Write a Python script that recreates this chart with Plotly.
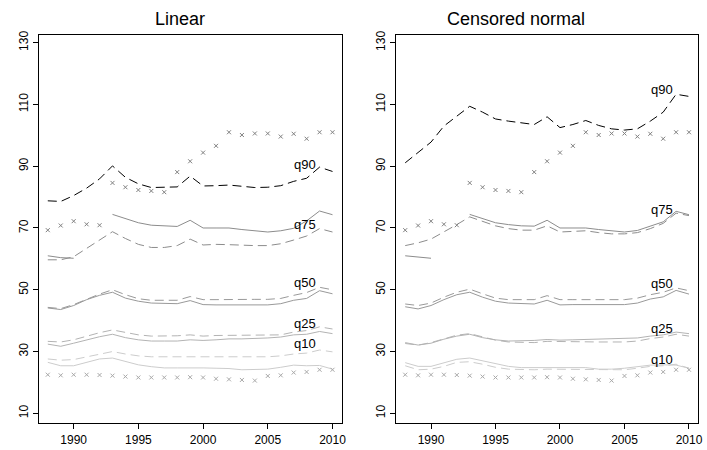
import plotly.graph_objects as go

years = list(range(1988, 2011))

# markers (same in both panels)
top_marks = [69.3, 70.8, 72.2, 71.2, 70.9, 84.6, 83.2, 82.3, 82.0, 81.6, 88.1, 91.6, 94.4, 96.6,
             101.0, 100.1, 100.6, 100.6, 99.6, 100.5, 98.9, 101.0, 101.0]
bottom_marks = [22.5, 22.3, 22.5, 22.5, 22.4, 22.2, 21.9, 21.6, 21.6, 21.6, 21.6, 21.7, 21.6, 21.2,
                21.0, 20.8, 20.6, 22.1, 22.3, 23.2, 23.4, 24.1, 24.1]

# Linear panel
lin_q90_dash = [78.8, 78.6, 80.5, 82.9, 85.9, 90.1, 86.4, 84.3, 83.1, 83.1, 83.3, 86.8, 83.6, 83.7,
                83.9, 83.5, 83.1, 83.2, 83.7, 85.1, 86.1, 89.7, 88.3]
lin_q75_solid = [61.0, 60.4, 60.2, None, None, 74.4, 73.0, 71.7, 70.9, 70.6, 70.5, 72.5, 70.0, 70.0,
                 70.0, 69.5, 69.0, 68.7, 69.1, 69.9, 72.3, 75.5, 74.3]
lin_q75_dash = [59.7, 59.7, 60.7, 63.4, 65.9, 68.8, 66.6, 64.7, 63.7, 63.7, 64.3, 66.4, 64.5, 64.7,
                64.6, 64.4, 64.3, 64.3, 64.9, 66.1, 67.4, 69.8, 68.7]
lin_q50_solid = [44.1, 43.6, 44.9, 46.8, 48.2, 49.2, 47.3, 46.3, 45.7, 45.5, 45.5, 46.5, 45.2, 45.1,
                 45.1, 45.1, 45.1, 45.1, 45.5, 46.6, 47.2, 49.7, 48.7]
lin_q50_dash = [44.3, 43.9, 45.2, 47.0, 48.6, 50.0, 48.4, 47.1, 46.6, 46.6, 46.6, 47.8, 46.8, 46.8,
                46.9, 46.9, 46.9, 46.9, 47.2, 48.2, 49.1, 50.8, 50.0]
lin_q25_solid = [32.4, 31.7, 32.7, 33.8, 34.8, 35.6, 34.5, 33.8, 33.4, 33.4, 33.4, 33.8, 33.6, 33.8,
                 34.1, 34.1, 34.2, 34.4, 34.7, 35.4, 35.6, 36.5, 35.8]
lin_q25_dash = [33.3, 33.1, 33.8, 35.0, 36.1, 37.0, 36.1, 35.4, 35.0, 35.0, 35.1, 35.4, 35.0, 35.2,
                35.2, 35.2, 35.2, 35.2, 35.4, 36.3, 36.8, 38.0, 37.3]
lin_q10_solid = [26.5, 25.4, 25.4, 26.5, 27.6, 27.9, 26.7, 25.7, 25.1, 24.7, 24.7, 24.8, 24.7, 24.6,
                 24.5, 24.1, 24.1, 24.3, 24.9, 25.6, 25.4, 25.5, 24.3]
lin_q10_dash = [27.6, 27.2, 27.4, 28.3, 29.2, 30.0, 29.2, 28.6, 28.3, 28.3, 28.3, 28.3, 28.3, 28.1,
                28.3, 28.3, 28.3, 28.3, 28.6, 29.2, 29.5, 30.5, 29.9]

# Censored normal panel
cen_q90_dash = [91.1, 94.6, 97.8, 103.0, 106.2, 109.4, 107.5, 105.3, 104.6, 104.1, 103.5, 106.0, 102.5,
                103.5, 104.8, 103.2, 102.1, 101.7, 102.1, 104.6, 107.5, 113.3, 112.6]
cen_q75_solid = [61.0, 60.6, 60.2, None, None, 74.4, 73.0, 71.7, 71.1, 70.7, 70.6, 72.5, 70.0, 70.0,
                 70.0, 69.5, 69.0, 68.7, 69.2, 70.6, 72.0, 75.4, 74.3]
cen_q75_dash = [64.3, 65.2, 66.4, 68.7, 71.1, 73.6, 72.2, 70.7, 69.8, 69.3, 69.3, 70.7, 68.7, 68.9,
                69.1, 68.5, 68.1, 68.1, 68.5, 69.8, 71.5, 74.8, 74.0]
cen_q50_solid = [44.5, 43.8, 44.9, 46.8, 48.4, 49.2, 47.6, 46.3, 45.7, 45.5, 45.4, 46.6, 45.1, 45.2,
                 45.2, 45.2, 45.2, 45.2, 45.7, 47.0, 47.7, 49.8, 48.6]
cen_q50_dash = [45.4, 44.9, 45.7, 47.6, 49.2, 50.2, 48.7, 47.3, 46.8, 46.8, 46.8, 48.1, 46.8, 46.8,
                46.8, 46.8, 46.8, 46.8, 47.3, 48.4, 49.2, 50.6, 49.7]
cen_q25_solid = [32.9, 32.1, 32.7, 34.0, 35.0, 35.6, 34.5, 33.8, 33.4, 33.4, 33.6, 33.9, 33.7, 33.8,
                 33.9, 34.0, 34.0, 34.1, 34.4, 35.0, 35.4, 36.3, 35.8]
cen_q25_dash = [32.6, 32.1, 32.9, 34.2, 35.3, 35.8, 34.7, 33.7, 33.1, 33.1, 32.9, 33.3, 33.2, 33.1,
                33.1, 33.1, 33.1, 33.1, 33.4, 34.2, 34.7, 35.6, 35.0]
cen_q10_solid = [26.4, 25.2, 25.2, 26.3, 27.5, 27.9, 27.0, 26.1, 25.2, 24.8, 24.8, 25.0, 25.0, 24.9,
                 24.8, 24.3, 24.3, 24.6, 25.0, 25.6, 25.7, 25.6, 24.6]
cen_q10_dash = [25.4, 24.1, 24.3, 25.2, 26.5, 26.7, 25.9, 24.9, 24.3, 24.1, 24.1, 24.3, 24.3, 24.1,
                24.1, 24.1, 24.1, 24.1, 24.6, 25.2, 25.4, 25.9, 24.6]

quantile_labels = ["q90", "q75", "q50", "q25", "q10"]
lin_label_y = [90.6, 71.0, 52.4, 39.2, 32.5]
cen_label_y = [114.7, 76.1, 52.1, 37.3, 27.3]
label_year = 2007.9

col = {"q90": "#000000", "q75": "#8c8c8c", "q50": "#999999", "q25": "#b3b3b3", "q10": "#cccccc"}
DASH = "9px,5px"

panels = [
    ("x", "y", {"q90": (None, lin_q90_dash), "q75": (lin_q75_solid, lin_q75_dash),
                "q50": (lin_q50_solid, lin_q50_dash), "q25": (lin_q25_solid, lin_q25_dash),
                "q10": (lin_q10_solid, lin_q10_dash)}, lin_label_y),
    ("x2", "y2", {"q90": (None, cen_q90_dash), "q75": (cen_q75_solid, cen_q75_dash),
                  "q50": (cen_q50_solid, cen_q50_dash), "q25": (cen_q25_solid, cen_q25_dash),
                  "q10": (cen_q10_solid, cen_q10_dash)}, cen_label_y),
]

fig = go.Figure()
annotations = []
for xa, ya, series, label_y in panels:
    for q, (solid, dash) in series.items():
        if solid is not None:
            fig.add_trace(go.Scatter(x=years, y=solid, mode="lines", xaxis=xa, yaxis=ya,
                                     line=dict(color=col[q], width=1), connectgaps=False,
                                     hoverinfo="skip"))
        fig.add_trace(go.Scatter(x=years, y=dash, mode="lines", xaxis=xa, yaxis=ya,
                                 line=dict(color=col[q], width=1, dash=DASH), hoverinfo="skip"))
    fig.add_trace(go.Scatter(x=years, y=top_marks, mode="markers", xaxis=xa, yaxis=ya,
                             marker=dict(symbol="x-thin", size=4, line=dict(color="#808080", width=1)),
                             hoverinfo="skip"))
    fig.add_trace(go.Scatter(x=years, y=bottom_marks, mode="markers", xaxis=xa, yaxis=ya,
                             marker=dict(symbol="x-thin", size=4, line=dict(color="#a8a8a8", width=1)),
                             hoverinfo="skip"))
    for lab, ly in zip(quantile_labels, label_y):
        annotations.append(dict(x=label_year, y=ly, xref=xa, yref=ya, text=lab, showarrow=False,
                                font=dict(size=13, color="#000000", family="Liberation Sans, Arial"),
                                xanchor="center", yanchor="middle", bgcolor="rgba(0,0,0,0)"))

W, H = 707, 450
annotations.append(dict(x=181 / W, y=1 - 15 / H, xref="paper", yref="paper", text="Linear",
                        showarrow=False, font=dict(size=18, color="#000"),
                        xanchor="center", yanchor="middle"))
annotations.append(dict(x=520 / W, y=1 - 15 / H, xref="paper", yref="paper", text="Censored normal",
                        showarrow=False, font=dict(size=18, color="#000"),
                        xanchor="center", yanchor="middle"))

xcommon = dict(range=[1987.3, 2010.7], tickvals=[1990, 1995, 2000, 2005, 2010], ticks="outside",
               ticklen=5, tickcolor="#000", showline=True, linecolor="#000", linewidth=1, mirror=True,
               showgrid=False, zeroline=False, tickfont=dict(size=12, color="#000"))
ycommon = dict(range=[6.79, 132.57], tickvals=[10, 30, 50, 70, 90, 110, 130], ticks="outside",
               ticklen=5, tickcolor="#000", showline=True, linecolor="#000", linewidth=1, mirror=True,
               showgrid=False, zeroline=False, tickangle=-90, tickfont=dict(size=12, color="#000"))

ydom = [(H - 423) / H, (H - 31) / H]
fig.update_layout(
    width=W, height=H, margin=dict(l=0, r=0, t=0, b=0),
    paper_bgcolor="white", plot_bgcolor="white", showlegend=False,
    font=dict(family="Liberation Sans, Arial, sans-serif", color="#000"),
    xaxis=dict(domain=[39 / W, 344 / W], anchor="y", **xcommon),
    yaxis=dict(domain=ydom, anchor="x", **ycommon),
    xaxis2=dict(domain=[399 / W, 703 / W], anchor="y2", **xcommon),
    yaxis2=dict(domain=ydom, anchor="x2", **ycommon),
    annotations=annotations,
)

fig.write_html("out.html")
